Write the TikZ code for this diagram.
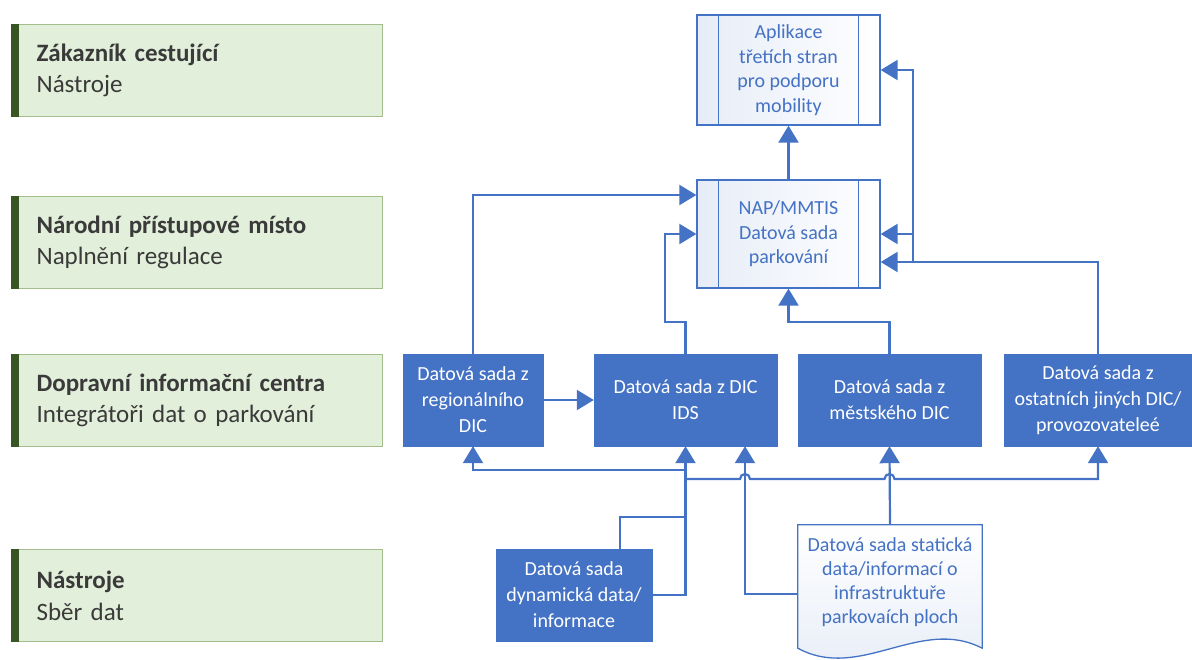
\documentclass[tikz,border=0pt]{standalone}
\usepackage{fontspec}
\setmainfont{Carlito}
\usetikzlibrary{arrows.meta}
\definecolor{bl}{HTML}{4472C4}
\definecolor{gfill}{HTML}{E2EFDA}
\definecolor{gborder}{HTML}{A3BE8C}
\definecolor{gbar}{HTML}{375623}
\definecolor{gtext}{HTML}{3A3A3A}
\definecolor{lightbl}{HTML}{E6ECF7}
\begin{document}
\begin{tikzpicture}[x=1pt,y=-1pt,
  gbox/.style={draw=gborder, fill=gfill, line width=1.2pt, minimum width=371pt,
    minimum height=92pt, anchor=north west, text width=321pt, inner xsep=25pt,
    align=left, text=gtext, font=\fontsize{25}{31.5}\selectfont},
  bbox/.style={fill=bl, draw=bl, text=white, minimum height=92pt, align=center,
    inner sep=0pt, font=\fontsize{20}{26}\selectfont},
  lbox/.style={draw=bl, line width=1.3pt, left color=lightbl, right color=white,
    minimum width=183pt, text=bl, align=center, inner sep=0pt,
    font=\fontsize{20}{24.5}\selectfont},
  arr/.style={draw=bl, line width=2.2pt, -{Triangle[length=17pt,width=20pt]}},
  ln/.style={draw=bl, line width=2.2pt},
]
\useasboundingbox (0,0) rectangle (1192,659);

% left green boxes
\node[gbox] (g1) at (11,24) {\textbf{Zákazník cestující}\\Nástroje};
\node[gbox] (g2) at (11,196) {\textbf{Národní přístupové místo}\\Naplnění regulace};
\node[gbox] (g3) at (11,354) {\textbf{Dopravní informační centra}\\Integrátoři dat o parkování};
\node[gbox] (g4) at (11,549) {\textbf{Nástroje}\\Sběr dat};
\foreach \g in {g1,g2,g3,g4}
  \fill[gbar] (\g.north west) rectangle ([xshift=8pt]\g.south west);

% top boxes
\node[lbox, minimum height=110pt] (app) at (788.5,70) {Aplikace\\třetích stran\\pro podporu\\mobility};
\node[lbox, minimum height=108pt] (nap) at (788.5,234) {NAP/MMTIS\\Datová sada\\parkování};
\foreach \b in {app,nap} {
  \draw[bl, line width=1.3pt] ([xshift=22pt]\b.north west) -- ([xshift=22pt]\b.south west);
  \draw[bl, line width=1.3pt] ([xshift=-22pt]\b.north east) -- ([xshift=-22pt]\b.south east);
}

% middle row
\node[bbox, minimum width=140pt] (reg) at (473,400) {Datová sada z\\regionálního\\DIC};
\node[bbox, minimum width=183pt] (ids) at (685.5,400) {Datová sada z DIC\\IDS};
\node[bbox, minimum width=183pt] (mes) at (889.5,400) {Datová sada z\\městského DIC};
\node[bbox, minimum width=188pt] (ost) at (1098,400) {Datová sada z\\ostatních jiných DIC/\\provozovateleé};

% bottom
\node[bbox, minimum width=156pt] (dyn) at (574,595) {Datová sada\\dynamická data/\\informace};
\node[minimum width=184pt, minimum height=112pt, inner sep=0pt] (stat) at (890,581) {};
\shade[top color=white, bottom color=lightbl, draw=bl, line width=1.3pt]
  (stat.north west) -- (stat.north east) -- ([yshift=-11pt]stat.south east)
  .. controls (920,616) and (860,682) .. ([yshift=-11pt]stat.south west) -- cycle;
\node[text=bl, align=center, font=\fontsize{20}{24}\selectfont] (stattext) at ([yshift=-1pt]stat.center)
  {Datová sada statická\\data/informací o\\infrastruktuře\\parkovaích ploch};

% connectors to NAP / app
\draw[arr] (nap.north) -- (app.south);
\coordinate (rj) at (913,262);
\draw[arr] (ost.north) |- ([yshift=-28pt]nap.east);
\draw[arr] (rj) |- (app.east);
\draw[arr] (rj |- nap.east) -- (nap.east);
\draw[arr] (reg.north) |- ([yshift=39pt]nap.west);
\draw[arr] (ids.north) |- (665,322) |- (nap.west);
\draw[arr] (mes.north) |- (nap.south |- 0,322) -- (nap.south);
\draw[arr] (reg) -- (ids);

% bottom connectors
\coordinate (h1) at (ids.south |- 0,470);
\coordinate (h2) at (ids.south |- 0,479);
\draw[arr] (dyn.east) -| (ids.south);
\draw[ln] ([xshift=46pt]dyn.north) |- (ids.south |- 0,517);
\draw[arr] (h1) -| (reg.south);
\draw[arr] (h2) -- (740,479) arc[start angle=180, end angle=0, radius=5pt]
  -- (884.5,479) arc[start angle=180, end angle=0, radius=5pt] -| (ost.south);
\draw[arr] ([yshift=-13pt]stat.west) -| ([xshift=59.5pt]ids.south);
\draw[arr] (stat.north) -- (mes.south);
\end{tikzpicture}
\end{document}
